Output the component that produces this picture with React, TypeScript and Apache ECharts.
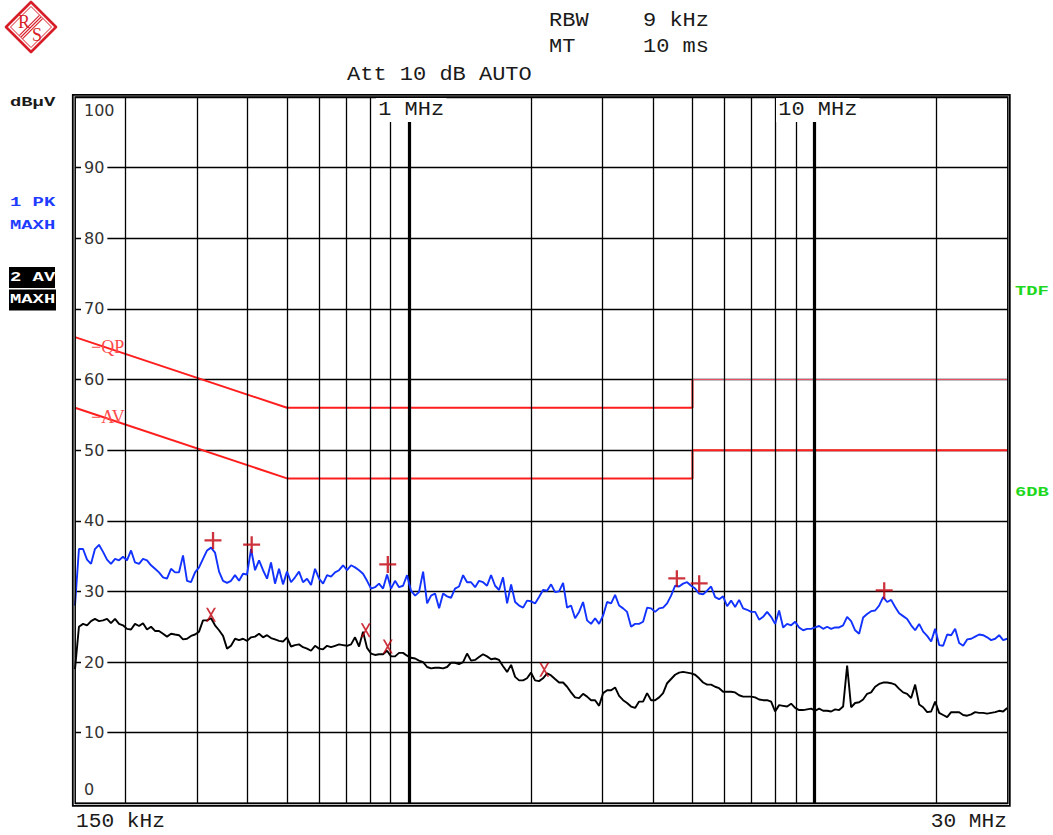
import React, { useEffect, useRef } from "react";
import * as echarts from "echarts";

// Sweep frequencies (kHz), shared by both detector traces
const freqKHz = [
  150.0, 153.4, 157.0, 160.6, 164.3, 168.0, 171.9, 175.9, 179.9, 184.0,
  188.3, 192.6, 197.0, 201.5, 206.2, 210.9, 215.8, 220.7, 225.8, 231.0,
  236.3, 241.7, 247.3, 252.9, 258.8, 264.7, 270.8, 277.0, 283.4, 289.9,
  296.6, 303.4, 310.3, 317.5, 324.8, 332.2, 339.9, 347.7, 355.7, 363.8,
  372.2, 380.8, 389.5, 398.5, 407.6, 417.0, 426.6, 436.4, 446.4, 456.6,
  467.1, 477.8, 488.8, 500.0, 511.5, 523.3, 535.3, 547.6, 560.2, 573.1,
  586.3, 599.8, 613.6, 627.7, 642.1, 656.8, 671.9, 687.4, 703.2, 719.3,
  735.8, 752.7, 770.0, 787.7, 805.8, 824.3, 843.3, 862.6, 882.5, 902.7,
  923.5, 944.7, 966.4, 988.6, 1011, 1035, 1058, 1083, 1108, 1133,
  1159, 1186, 1213, 1241, 1269, 1298, 1328, 1359, 1390, 1422,
  1455, 1488, 1522, 1557, 1593, 1630, 1667, 1705, 1745, 1785,
  1826, 1868, 1911, 1954, 1999, 2045, 2092, 2140, 2190, 2240,
  2291, 2344, 2398, 2453, 2509, 2567, 2626, 2686, 2748, 2811,
  2876, 2942, 3010, 3079, 3150, 3222, 3296, 3372, 3449, 3528,
  3610, 3692, 3777, 3864, 3953, 4044, 4137, 4232, 4329, 4428,
  4530, 4634, 4741, 4850, 4961, 5075, 5192, 5311, 5433, 5558,
  5686, 5816, 5950, 6087, 6227, 6370, 6516, 6666, 6819, 6976,
  7136, 7300, 7468, 7639, 7815, 7994, 8178, 8366, 8558, 8755,
  8956, 9162, 9372, 9588, 9808, 10034, 10264, 10500, 10741, 10988,
  11240, 11498, 11762, 12033, 12309, 12592, 12881, 13178, 13480, 13790,
  14108, 14432, 14764, 15103, 15450, 15805, 16169, 16540, 16920, 17309,
  17706, 18113, 18529, 18955, 19391, 19836, 20292, 20758, 21235, 21723,
  22222, 22733, 23255, 23790, 24336, 24895, 25467, 26052, 26651, 27264,
  27891, 28532, 29187, 29858,
];

// Trace 1: peak detector, max hold (dBµV)
const peakDb = [
  28.0, 36.0, 36.0, 34.5, 33.9, 36.0, 36.6, 35.6, 34.5, 33.9,
  34.6, 34.4, 34.9, 34.4, 35.8, 34.1, 33.9, 34.6, 34.4, 33.7,
  33.2, 32.7, 32.0, 31.8, 33.2, 32.7, 32.7, 35.1, 31.5, 31.3,
  32.7, 33.4, 34.6, 35.8, 36.2, 35.5, 32.8, 31.5, 31.2, 31.5,
  32.3, 31.5, 32.5, 32.4, 36.0, 33.0, 34.4, 33.0, 31.8, 34.1,
  31.1, 33.2, 31.0, 32.8, 31.3, 32.0, 32.8, 31.3, 31.8, 30.9,
  33.2, 31.8, 31.1, 32.3, 32.1, 32.7, 33.0, 33.7, 33.0, 33.7,
  33.4, 33.0, 32.5, 31.5, 30.4, 30.6, 31.1, 30.4, 32.4, 30.4,
  31.5, 30.6, 30.8, 32.3, 30.1, 29.4, 29.9, 32.8, 28.3, 29.4,
  29.7, 27.6, 29.7, 29.3, 29.1, 30.4, 30.7, 32.3, 31.3, 31.3,
  30.6, 31.5, 31.3, 30.8, 32.3, 30.8, 30.2, 32.0, 28.3, 31.0,
  28.5, 28.0, 27.7, 28.7, 28.6, 28.3, 29.2, 30.2, 30.1, 31.0,
  29.9, 30.0, 31.2, 27.7, 28.0, 26.2, 27.1, 28.5, 25.9, 25.4,
  26.2, 25.4, 26.6, 28.5, 28.3, 29.5, 28.0, 27.6, 27.1, 25.0,
  25.4, 25.4, 25.7, 27.7, 27.6, 27.1, 27.6, 27.7, 28.3, 29.4,
  30.8, 30.7, 31.1, 31.3, 30.8, 30.4, 29.7, 29.6, 30.1, 30.7,
  29.2, 28.9, 29.3, 27.9, 28.7, 27.8, 28.8, 27.6, 27.4, 27.1,
  27.1, 26.0, 26.4, 27.1, 26.4, 25.4, 27.3, 24.9, 25.4, 25.2,
  25.7, 24.9, 24.5, 24.7, 24.7, 24.9, 25.1, 24.7, 25.0, 24.7,
  24.9, 24.9, 25.2, 26.4, 25.8, 24.5, 24.0, 26.3, 26.8, 27.2,
  27.3, 28.0, 29.2, 28.5, 28.8, 27.8, 26.9, 26.5, 26.1, 25.2,
  24.5, 25.4, 24.3, 23.7, 22.9, 24.7, 22.4, 22.3, 23.9, 23.8,
  24.7, 22.7, 22.3, 23.2, 23.3, 23.6, 23.9, 23.8, 23.5, 23.1,
  23.3, 23.8, 23.1, 23.3,
];

// Trace 2: average detector, max hold (dBµV)
const avgDb = [
  19.0, 25.0, 25.4, 25.2, 25.8, 26.1, 25.8, 25.9, 26.1, 25.5,
  26.1, 25.4, 25.2, 24.7, 24.6, 25.4, 25.1, 25.5, 24.6, 25.0,
  24.4, 24.4, 24.0, 23.6, 24.0, 23.9, 23.8, 23.2, 23.3, 23.7,
  23.9, 24.3, 25.9, 25.9, 26.2, 25.2, 24.5, 23.7, 21.9, 22.3,
  23.3, 23.1, 23.3, 23.0, 23.5, 23.6, 24.0, 23.5, 23.8, 23.4,
  23.2, 23.0, 22.9, 23.5, 22.2, 22.4, 22.5, 22.1, 21.9, 21.6,
  22.3, 21.9, 21.8, 22.3, 22.1, 22.3, 22.5, 22.4, 22.3, 22.5,
  23.5, 22.2, 24.3, 22.0, 21.2, 21.0, 21.1, 21.1, 21.6, 20.8,
  20.8, 21.3, 21.3, 20.9, 20.6, 20.5, 20.2, 20.0, 19.3, 19.1,
  19.2, 19.2, 19.1, 19.3, 19.9, 19.9, 19.7, 20.0, 21.2, 20.2,
  20.3, 20.7, 21.1, 20.8, 20.4, 20.5, 20.3, 19.4, 18.6, 19.6,
  17.9, 17.4, 17.4, 17.7, 18.5, 17.4, 17.3, 17.7, 18.4, 18.1,
  17.6, 17.1, 17.1, 16.5, 15.7, 15.0, 14.9, 15.5, 15.1, 14.6,
  14.6, 13.8, 15.6, 16.0, 16.0, 16.4, 15.2, 14.6, 14.2, 13.7,
  13.5, 14.4, 14.4, 15.6, 14.6, 14.6, 15.0, 15.6, 17.0, 17.6,
  18.2, 18.5, 18.6, 18.5, 18.4, 18.2, 17.7, 17.1, 16.8, 16.8,
  16.5, 16.3, 15.8, 15.8, 15.8, 15.7, 15.3, 15.1, 15.1, 15.1,
  15.0, 14.7, 14.6, 14.6, 14.4, 13.0, 13.9, 13.8, 13.7, 14.1,
  13.5, 13.2, 13.2, 13.3, 13.4, 13.1, 13.4, 13.1, 13.1, 13.0,
  13.3, 13.2, 13.7, 19.5, 13.6, 14.2, 14.3, 14.7, 15.5, 15.7,
  16.5, 16.9, 17.1, 17.1, 17.0, 16.8, 16.2, 15.7, 15.5, 14.9,
  16.8, 14.0, 13.6, 12.9, 13.0, 14.4, 12.8, 12.5, 12.2, 12.9,
  12.9, 12.9, 12.5, 12.4, 12.6, 12.9, 12.8, 12.8, 12.7, 12.8,
  12.9, 13.1, 13.0, 13.5,
];

// Final-measurement markers [kHz, dBµV]
const peakMarkers = [
  [328.4, 37.2], [409, 36.6], [886, 33.8], [4574, 31.8], [5193, 31.1], [14850, 30.1],
];
const avgMarkers = [
  [324.7, 26.7], [782, 24.5], [886, 22.2], [2155, 18.9],
];

// Limit lines [kHz, dBµV]
const qpLimit = [[150, 66], [500, 56], [5000, 56], [5000, 60]];
const qpLimitHigh = [[5000, 60], [30000, 60]];
const avLimit = [[150, 56], [500, 46], [5000, 46], [5000, 50], [30000, 50]];

// Frequency grid (kHz)
const gridFreqsKHz = [200, 300, 400, 500, 600, 700, 800, 900, 2000, 3000, 4000, 5000, 6000, 7000, 8000, 9000, 20000];
const decadeFreqsKHz = [1000, 10000];
const freqMinKHz = 150;
const freqMaxKHz = 30000;
const levelMin = 0;
const levelMax = 100;
const levelStep = 10;

const BLUE = "#1232ff";
const LIMIT_RED = "#ff1e1e";
const MARK_RED = "#c0000c";
const GREEN = "#1ed81e";
const MONO = '"Liberation Mono", "DejaVu Sans Mono", monospace';
const SERIF = '"Liberation Serif", "DejaVu Serif", serif';

const PLUS = "path://M0,7.1L17,7.1L17,9.4L0,9.4ZM7.4,0L9.7,0L9.7,17L7.4,17Z";
const CROSS = "path://M0,0L2.4,0L12,16L9.6,16ZM9.6,0L12,0L2.4,16L0,16Z";

function monoText(text: string, x: number, y: number, size: number, fill: string, opts: any = {}) {
  return {
    type: "text",
    x,
    y,
    z: 100,
    scaleX: opts.scaleX ?? 1.1,
    style: {
      text,
      font: `${opts.bold ? "bold " : ""}${size}px ${MONO}`,
      fill,
      align: opts.align ?? "left",
      verticalAlign: "middle",
      backgroundColor: opts.bg,
      padding: opts.padding,
    },
  };
}

function logo() {
  const c = "#d71e28";
  const stripes = [-3.2, 0, 3.2].map((s) => ({
    type: "line",
    shape: { x1: (s + 20) / 2, y1: (s - 20) / 2, x2: (s - 20) / 2, y2: (s + 20) / 2 },
    style: { stroke: c, lineWidth: 1.1 },
  }));
  return {
    type: "group",
    x: 31,
    y: 27,
    z: 100,
    children: [
      {
        type: "polygon",
        shape: { points: [[0, -25], [25, 0], [0, 25], [-25, 0]] },
        style: { fill: "none", stroke: c, lineWidth: 2.6, lineJoin: "round" },
      },
      {
        type: "polygon",
        shape: { points: [[0, -20.5], [20.5, 0], [0, 20.5], [-20.5, 0]] },
        style: { fill: "none", stroke: c, lineWidth: 1 },
      },
      ...stripes,
      {
        type: "text",
        x: -7,
        y: -5,
        style: { text: "R", font: `18px ${SERIF}`, fill: c, align: "center", verticalAlign: "middle" },
      },
      {
        type: "text",
        x: 6,
        y: 8,
        style: { text: "S", font: `18px ${SERIF}`, fill: c, align: "center", verticalAlign: "middle" },
      },
    ],
  };
}

export default function App() {
  const ref = useRef<HTMLDivElement>(null);

  useEffect(() => {
    if (!ref.current) return;
    const chart = echarts.init(ref.current, null, { renderer: "svg", width: 1053, height: 835 });

    const peakData = freqKHz.map((f, i) => [f, peakDb[i]]);
    const avgData = freqKHz.map((f, i) => [f, avgDb[i]]);

    const gridLines = [
      ...gridFreqsKHz.map((f) => ({ xAxis: f, lineStyle: { width: 1.3 } })),
      ...decadeFreqsKHz.map((f) => ({ xAxis: f, lineStyle: { width: 3.2 } })),
    ];

    const labelFont = '"DejaVu Sans", Verdana, sans-serif';

    const option: any = {
      animation: false,
      backgroundColor: "#fff",
      grid: { left: 75, right: 45, top: 97, bottom: 31.7, containLabel: false },
      xAxis: {
        type: "log",
        logBase: 10,
        min: freqMinKHz,
        max: freqMaxKHz,
        axisLine: { show: false },
        axisTick: { show: false },
        axisLabel: { show: false },
        splitLine: { show: false },
      },
      yAxis: {
        type: "value",
        min: levelMin,
        max: levelMax,
        interval: levelStep,
        axisLine: { show: false },
        axisTick: { show: false },
        splitLine: { show: true, lineStyle: { color: "#000", width: 1.3 } },
        axisLabel: {
          inside: true,
          margin: 6,
          formatter: (v: number) =>
            v === levelMax ? `{top|${v}}` : v === levelMin ? `{bot|${v}}` : `{mid|${v}}`,
          rich: {
            mid: {
              fontFamily: labelFont,
              fontSize: 16,
              color: "#333",
              backgroundColor: "#fff",
              padding: [1, 3, 1, 3],
            },
            top: { fontFamily: labelFont, fontSize: 16, color: "#333", padding: [26, 0, 0, 3] },
            bot: { fontFamily: labelFont, fontSize: 16, color: "#333", padding: [0, 0, 28, 3] },
          },
        },
      },
      series: [
        {
          type: "line",
          data: [],
          z: 1,
          silent: true,
          markLine: {
            silent: true,
            symbol: ["none", "none"],
            label: { show: false },
            lineStyle: { color: "#000", type: "solid", width: 1.3 },
            data: gridLines,
          },
        },
        {
          type: "line",
          data: qpLimit,
          z: 3,
          symbol: "none",
          lineStyle: { color: LIMIT_RED, width: 2 },
        },
        {
          type: "line",
          data: qpLimitHigh,
          z: 3,
          symbol: "none",
          lineStyle: { color: "#e8506a", width: 1.2 },
        },
        {
          type: "line",
          data: avLimit,
          z: 3,
          symbol: "none",
          lineStyle: { color: LIMIT_RED, width: 2 },
        },
        {
          type: "line",
          data: avgData,
          z: 4,
          symbol: "none",
          lineStyle: { color: "#000", width: 1.9 },
        },
        {
          type: "line",
          data: peakData,
          z: 5,
          symbol: "none",
          lineStyle: { color: BLUE, width: 1.9 },
        },
        {
          type: "scatter",
          data: peakMarkers,
          z: 6,
          symbol: PLUS,
          symbolSize: [17, 17],
          itemStyle: { color: MARK_RED },
        },
        {
          type: "scatter",
          data: avgMarkers,
          z: 6,
          symbol: CROSS,
          symbolSize: [10, 14],
          itemStyle: { color: MARK_RED },
        },
      ],
      graphic: [
        logo(),
        monoText("RBW", 549, 21, 20, "#1a1a1a"),
        monoText("9 kHz", 643, 21, 20, "#1a1a1a"),
        monoText("MT", 549, 47, 20, "#1a1a1a"),
        monoText("10 ms", 643, 47, 20, "#1a1a1a"),
        monoText("Att 10 dB AUTO", 347, 75, 20, "#1a1a1a"),
        monoText("1 MHz", 376, 110, 20, "#1a1a1a", { bg: "#fff", padding: [2, 2, 2, 2] }),
        monoText("10 MHz", 776, 110, 20, "#1a1a1a", { bg: "#fff", padding: [2, 2, 2, 2] }),
        monoText("150 kHz", 76, 822, 20, "#1a1a1a", { scaleX: 1.06 }),
        monoText("30 MHz", 1007, 822, 20, "#1a1a1a", { align: "right", scaleX: 1.06 }),
        monoText("dBµV", 10, 103, 13, "#1a1a1a", { bold: true, scaleX: 1.45 }),
        monoText("1 PK", 10, 203, 13, "#1e3cff", { bold: true, scaleX: 1.45 }),
        monoText("MAXH", 10, 226, 13, "#1e3cff", { bold: true, scaleX: 1.45 }),
        { type: "rect", z: 100, shape: { x: 9, y: 267, width: 46, height: 21 }, style: { fill: "#000" } },
        monoText("2 AV", 10, 277.5, 13, "#fff", { bold: true, scaleX: 1.45 }),
        { type: "rect", z: 100, shape: { x: 9, y: 289.5, width: 47, height: 21 }, style: { fill: "#000" } },
        monoText("MAXH", 10, 300, 13, "#fff", { bold: true, scaleX: 1.45 }),
        monoText("TDF", 1015, 292, 13, GREEN, { bold: true, scaleX: 1.45 }),
        monoText("6DB", 1015, 493, 13, GREEN, { bold: true, scaleX: 1.45 }),
        {
          type: "text",
          x: 91,
          y: 347,
          z: 100,
          style: { text: "−QP", font: `18px ${SERIF}`, fill: "#ff4a4a", align: "left", verticalAlign: "middle" },
        },
        {
          type: "text",
          x: 91,
          y: 417,
          z: 100,
          style: { text: "−AV", font: `18px ${SERIF}`, fill: "#ff4a4a", align: "left", verticalAlign: "middle" },
        },
        {
          type: "rect",
          z: 100,
          shape: { x: 72.8, y: 94.8, width: 937, height: 711 },
          style: { fill: "none", stroke: "#000", lineWidth: 1.8 },
        },
        {
          type: "rect",
          z: 100,
          shape: { x: 75.2, y: 97, width: 932.6, height: 706.3 },
          style: { fill: "none", stroke: "#000", lineWidth: 1.5 },
        },
      ],
    };

    chart.setOption(option);
    return () => chart.dispose();
  }, []);

  return (
    <div
      ref={ref}
      style={{ position: "fixed", left: 0, top: 0, width: 1053, height: 835, background: "#fff" }}
    />
  );
}
